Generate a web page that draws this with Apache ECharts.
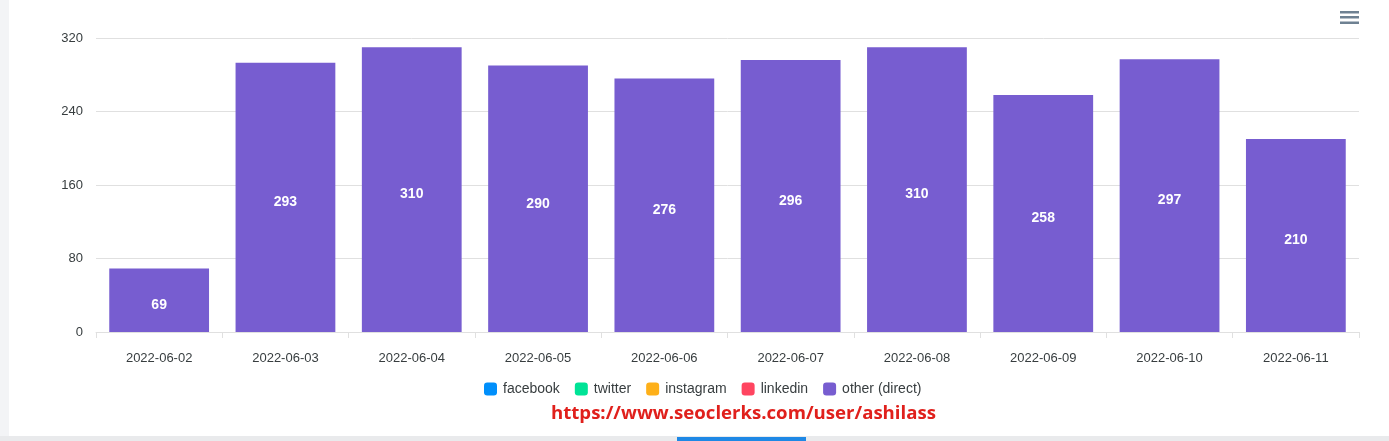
<!DOCTYPE html>
<html><head><meta charset="utf-8">
<script src="https://cdn.jsdelivr.net/npm/echarts@6/dist/echarts.min.js"></script>
<style>html,body{margin:0;padding:0;background:#fff;}#c{width:1389px;height:441px;}</style>
</head><body><div id="c"></div>
<script>
const categories = ['2022-06-02','2022-06-03','2022-06-04','2022-06-05','2022-06-06','2022-06-07','2022-06-08','2022-06-09','2022-06-10','2022-06-11'];
const facebook = [0,0,0,0,0,0,0,0,0,0];
const twitter = [0,0,0,0,0,0,0,0,0,0];
const instagram = [0,0,0,0,0,0,0,0,0,0];
const linkedin = [0,0,0,0,0,0,0,0,0,0];
const otherDirect = [69,293,310,290,276,296,310,258,297,210];
const seriesNames = ['facebook','twitter','instagram','linkedin','other (direct)'];
const colors = ['#008FFB','#00E396','#FEB019','#FF4560','#775DD0'];
const yTicks = [0,80,160,240,320];
const urlText = 'https://www.seoclerks.com/user/ashilass';

const dataSets = [facebook, twitter, instagram, linkedin, otherDirect];
const chart = echarts.init(document.getElementById('c'));
const series = seriesNames.map((n,i)=>({
  name:n, type:'bar', stack:'s', data:dataSets[i], barCategoryGap:'21%',
  itemStyle:{color:colors[i]},
  label:{show:i===4, position:'inside', offset:[0,5], color:'#fff', fontWeight:'bold', fontSize:14, fontFamily:'Liberation Sans, Arial, sans-serif'}
}));
chart.setOption({
  animation:false,
  color:colors,
  grid:{left:96,right:30,top:38,bottom:109},
  legend:{top:377,left:479,itemWidth:13,itemHeight:13,itemGap:15,icon:'roundRect',
    textStyle:{color:'#373d3f',fontSize:14,fontFamily:'Liberation Sans, Arial, sans-serif',padding:[0,0,0,1]},
    data:seriesNames},
  xAxis:{type:'category',data:categories,
    axisLine:{lineStyle:{color:'#e0e0e0'}},
    axisTick:{show:true,length:6,lineStyle:{color:'#e0e0e0'}},
    axisLabel:{color:'#373d3f',fontSize:13,margin:20,fontFamily:'Liberation Sans, Arial, sans-serif'}},
  yAxis:{type:'value',min:yTicks[0],max:yTicks[yTicks.length-1],interval:80,
    axisLine:{show:false},axisTick:{show:false},
    splitLine:{lineStyle:{color:'#e0e0e0'}},
    axisLabel:{color:'#373d3f',fontSize:13,margin:13,fontFamily:'Liberation Sans, Arial, sans-serif'}},
  graphic:[
    {type:'rect',left:0,top:0,shape:{width:9,height:441},style:{fill:'#f3f4f6'},silent:true},
    {type:'rect',left:0,top:436,shape:{width:1389,height:5},style:{fill:'#e9eaec'},silent:true},
    {type:'rect',left:677,top:437,shape:{width:129,height:4},style:{fill:'#1e88e5'},silent:true},
    {type:'rect',left:1340,top:11,shape:{width:19,height:2.5},style:{fill:'#6e8192'},silent:true},
    {type:'rect',left:1340,top:16,shape:{width:19,height:2.5},style:{fill:'#6e8192'},silent:true},
    {type:'rect',left:1340,top:21.5,shape:{width:19,height:2.5},style:{fill:'#6e8192'},silent:true},
    {type:'text',left:551,top:404,style:{text:urlText,fill:'#e0201c',font:'bold 18.6px "Open Sans", sans-serif'},silent:true}
  ],
  series:series
});
</script></body></html>
